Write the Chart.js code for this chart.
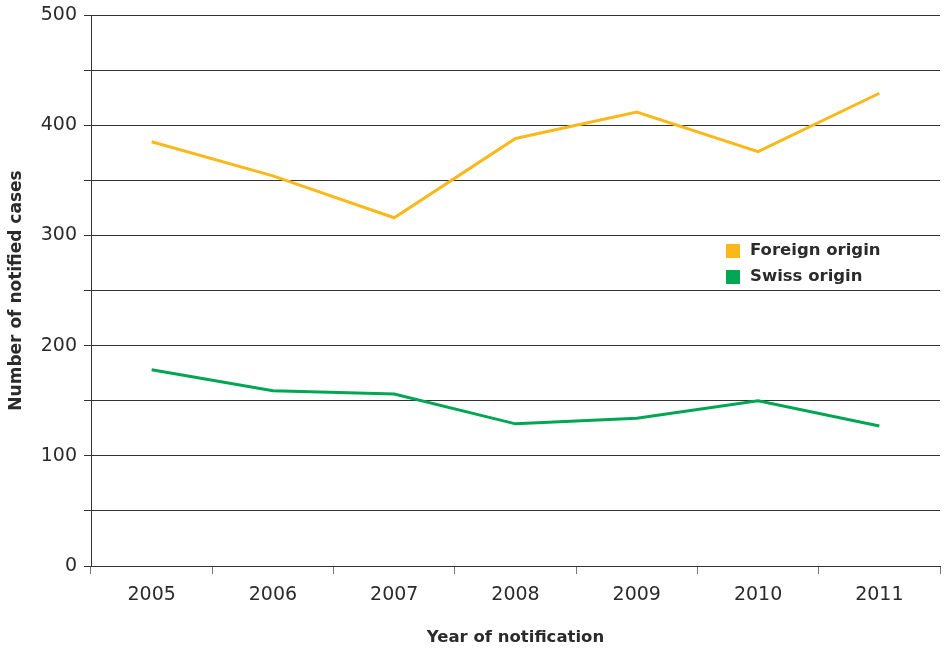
<!DOCTYPE html>
<html>
<head>
<meta charset="utf-8">
<script src="https://cdn.jsdelivr.net/npm/chart.js@4.4.0/dist/chart.umd.min.js"></script>
<style>
  html, body { margin: 0; padding: 0; background: #fff; }
  #wrap { width: 945px; height: 648px; }
</style>
</head>
<body>
<div id="wrap"><canvas id="cases" width="945" height="648"></canvas></div>
<script>
// Notified cases by year and origin
const years = ['2005', '2006', '2007', '2008', '2009', '2010', '2011'];
const foreignOrigin = [385, 354, 316, 388, 412, 376, 429];
const swissOrigin = [178, 159, 156, 129, 134, 150, 127];

const FONT = 'DejaVu Sans';
const INK = '#2b2b2b';

// legend drawn inside the plot, to the right
const boxLegend = {
    id: 'boxLegend',
    afterDraw(chart, args, opts) {
        const ctx = chart.ctx;
        ctx.save();
        ctx.font = `bold ${opts.size}px "${FONT}"`;
        ctx.textBaseline = 'middle';
        chart.data.datasets.forEach((ds, i) => {
            const y = opts.y + i * opts.gap;
            ctx.fillStyle = ds.borderColor;
            ctx.fillRect(opts.x, y - 7, 14, 14);
            ctx.fillStyle = INK;
            ctx.fillText(ds.label, opts.x + 24, y);
        });
        ctx.restore();
    }
};

new Chart(document.getElementById('cases'), {
    type: 'line',
    data: {
        labels: years,
        datasets: [
            { label: 'Foreign origin', data: foreignOrigin, borderColor: '#fbb81b', borderWidth: 3, pointRadius: 0, tension: 0 },
            { label: 'Swiss origin', data: swissOrigin, borderColor: '#00a651', borderWidth: 3, pointRadius: 0, tension: 0 }
        ]
    },
    plugins: [boxLegend],
    options: {
        responsive: false,
        animation: false,
        layout: { padding: { top: 15, right: 5, left: 0, bottom: 0 } },
        plugins: {
            legend: { display: false },
            tooltip: { enabled: false },
            boxLegend: { x: 726, y: 251, gap: 26, size: 16.5 }
        },
        scales: {
            x: {
                type: 'category',
                offset: true,
                grid: { drawOnChartArea: false, offset: true, tickLength: 8, color: '#777' },
                border: { color: '#333' },
                ticks: { color: INK, padding: 10, font: { family: FONT, size: 19 } },
                title: { display: true, text: 'Year of notification', color: INK, font: { family: FONT, size: 16.5, weight: 'bold' }, padding: { top: 0, bottom: 0 } },
                afterFit(scale) { scale.height = 82; }
            },
            y: {
                min: 0,
                max: 500,
                grid: { color: '#333', tickLength: 7 },
                border: { color: '#333' },
                ticks: {
                    stepSize: 50,
                    color: INK,
                    padding: 7,
                    font: { family: FONT, size: 19, lineHeight: 0.8 },
                    callback: v => (v % 100 === 0 ? v : '')
                },
                title: { display: true, text: 'Number of notified cases', color: INK, font: { family: FONT, size: 17, weight: 'bold' }, padding: { top: 6, bottom: 0 } },
                afterFit(scale) { scale.width = 91; }
            }
        }
    }
});
</script>
</body>
</html>
